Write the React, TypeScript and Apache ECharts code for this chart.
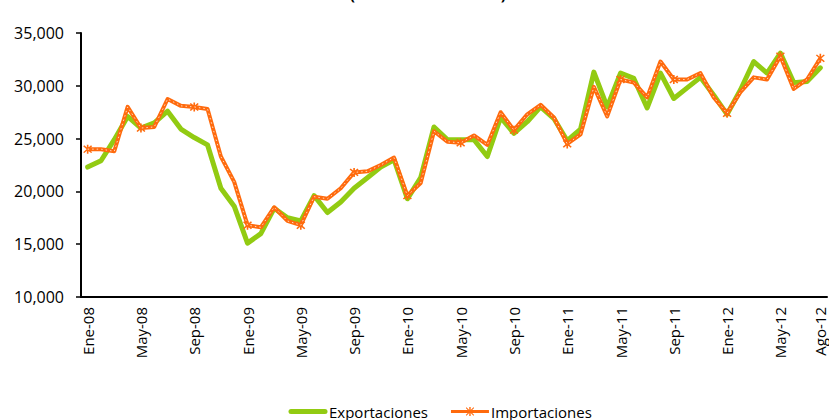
import React, { useEffect, useRef } from "react";
import * as echarts from "echarts";

const months = ["Ene", "Feb", "Mar", "Abr", "May", "Jun", "Jul", "Ago", "Sep", "Oct", "Nov", "Dic"];
const years = ["08", "09", "10", "11", "12"];
const categories: string[] = [];
years.forEach((y) => months.forEach((m) => categories.push(`${m}-${y}`)));
const cats = categories.slice(0, 56); // Ene-08 .. Ago-12

const exportaciones = [
  22300, 22900, 24900, 27100, 26000, 26500, 27600, 25900, 25100, 24400,
  20300, 18600, 15100, 16000, 18400, 17500, 17200, 19600, 18000, 19000,
  20300, 21300, 22300, 23000, 19300, 21300, 26100, 24900, 24900, 24900,
  23300, 27000, 25500, 26600, 28000, 26900, 24800, 25900, 31300, 28000,
  31200, 30700, 27900, 31200, 28800, 29800, 30800, 29100, 27300, 29600,
  32300, 31200, 33100, 30300, 30400, 31700,
];
const importaciones = [
  24000, 24000, 23800, 28000, 26000, 26100, 28750, 28100, 28000, 27800,
  23300, 20900, 16800, 16600, 18500, 17200, 16800, 19500, 19300, 20300,
  21800, 21900, 22500, 23200, 19600, 20800, 25700, 24700, 24600, 25300,
  24400, 27500, 25800, 27300, 28200, 27000, 24500, 25400, 29900, 27100,
  30600, 30300, 28900, 32300, 30600, 30600, 31200, 28900, 27400, 29400,
  30800, 30600, 32800, 29700, 30600, 32600,
];
const titleText = "(millones de dólares)";

const FONT = "'Open Sans', 'Noto Sans', sans-serif";
const STAR =
  "path://M4.2,0 H5.8 V10 H4.2 Z M0.6,1.7 L1.7,0.6 L9.4,8.3 L8.3,9.4 Z M8.3,0.6 L9.4,1.7 L1.7,9.4 L0.6,8.3 Z";
const ICON_EXP =
  "path://M0,0 M40,10 M3,2.5 H37 A2.5,2.5 0 0 1 37,7.5 H3 A2.5,2.5 0 0 1 3,2.5 Z";
const ICON_IMP =
  "path://M0,0 M40,10 M1,3.5 H39 V6.5 H1 Z M19.3,0.5 H20.7 V9.5 H19.3 Z M15.8,1.5 L16.5,0.8 L24.2,8.5 L23.5,9.2 Z M23.5,0.8 L24.2,1.5 L16.5,9.2 L15.8,8.5 Z";

export default function App() {
  const ref = useRef<HTMLDivElement>(null);
  useEffect(() => {
    if (!ref.current) return;
    const chart = echarts.init(ref.current, null, { renderer: "svg" });
    chart.setOption({
      animation: false,
      backgroundColor: "#ffffff",
      grid: { left: 81, right: 2, top: 33, bottom: 123, containLabel: false },
      graphic: [
        {
          type: "text",
          x: 428,
          y: 1,
          style: {
            text: titleText,
            textAlign: "center",
            textVerticalAlign: "bottom",
            font: `bold 15px ${FONT}`,
            fill: "#000",
          },
        },
      ],
      legend: {
        data: [
          { name: "Exportaciones", icon: ICON_EXP },
          { name: "Importaciones", icon: ICON_IMP },
        ],
        left: 288,
        top: 404,
        padding: 0,
        itemWidth: 40,
        itemHeight: 10,
        itemGap: 22,
        textStyle: { fontFamily: FONT, fontSize: 15, color: "#000", padding: [0, 0, 0, -4] },
      },
      xAxis: {
        type: "category",
        data: cats,
        boundaryGap: true,
        axisLine: { lineStyle: { color: "#000", width: 2 } },
        axisTick: { interval: 3, length: 5, lineStyle: { color: "#000", width: 1.5 } },
        axisLabel: {
          rotate: 90,
          interval: (i: number) => i % 4 === 0 || i === 55,
          fontFamily: FONT,
          fontSize: 15,
          color: "#000",
          margin: 10,
        },
        splitLine: { show: false },
      },
      yAxis: {
        type: "value",
        min: 10000,
        max: 35000,
        interval: 5000,
        axisLine: { show: true, lineStyle: { color: "#000", width: 2 } },
        axisTick: { show: true, length: 5, lineStyle: { color: "#000", width: 1.5 } },
        axisLabel: {
          fontFamily: FONT,
          fontSize: 16,
          color: "#000",
          margin: 17,
          formatter: (v: number) => v.toLocaleString("en-US"),
        },
        splitLine: { show: false },
      },
      series: [
        {
          name: "Exportaciones",
          type: "line",
          data: exportaciones,
          symbol: "none",
          color: "#92CB12",
          lineStyle: { width: 5, color: "#92CB12", cap: "round", join: "round" },
          z: 2,
        },
        {
          name: "Importaciones",
          type: "line",
          data: importaciones,
          symbol: STAR,
          symbolSize: 9,
          showSymbol: true,
          color: "#FF6A0D",
          itemStyle: { color: "#FF6A0D" },
          lineStyle: { width: 4, color: "#FF6A0D", join: "round" },
          z: 3,
        },
        {
          name: "Importaciones-core",
          type: "line",
          data: importaciones,
          symbol: "none",
          silent: true,
          lineStyle: { width: 1, color: "#FFD9C0", type: [1.5, 3] },
          z: 4,
        },
      ],
    });
    return () => chart.dispose();
  }, []);
  return (
    <div
      ref={ref}
      style={{ position: "fixed", left: 0, top: 0, width: 829, height: 420, background: "#fff" }}
    />
  );
}
